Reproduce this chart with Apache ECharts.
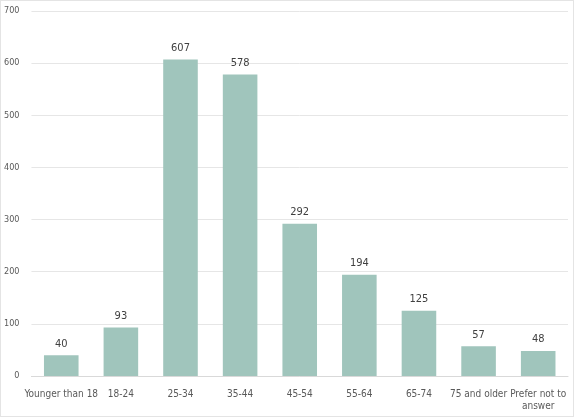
<!DOCTYPE html><html><head><meta charset="utf-8"><script src="https://cdn.jsdelivr.net/npm/echarts@6/dist/echarts.min.js"></script>
<style>html,body{margin:0;padding:0;background:#fff}#c{width:572px;height:415px;border:1px solid #e4e4e4}</style></head><body><div id="c"></div><script>
const categories=["Younger than 18","18-24","25-34","35-44","45-54","55-64","65-74","75 and older","Prefer not to\nanswer"];
const values=[40,93,607,578,292,194,125,57,48];
const font="'Liberation Sans Narrow','DejaVu Sans Condensed',sans-serif";
const ch=echarts.init(document.getElementById('c'));
ch.setOption({animation:false,textStyle:{fontFamily:font},
grid:{left:28,right:5,top:10,bottom:40},
xAxis:{type:'category',data:categories,axisTick:{show:false},axisLine:{lineStyle:{color:'#d9d9d9'}},axisLabel:{color:'#595959',fontSize:10,fontFamily:font,interval:0,margin:12,lineHeight:12}},
yAxis:{type:'value',min:0,max:700,interval:100,axisLabel:{color:'#595959',fontSize:9,fontFamily:font,margin:12},splitLine:{lineStyle:{color:'#e6e6e6'}}},
series:[{type:'bar',data:values,barCategoryGap:'42%',itemStyle:{color:'#a0c5bc'},label:{show:true,position:'top',color:'#404040',fontSize:11,fontFamily:font,distance:6}}]});
</script></body></html>
